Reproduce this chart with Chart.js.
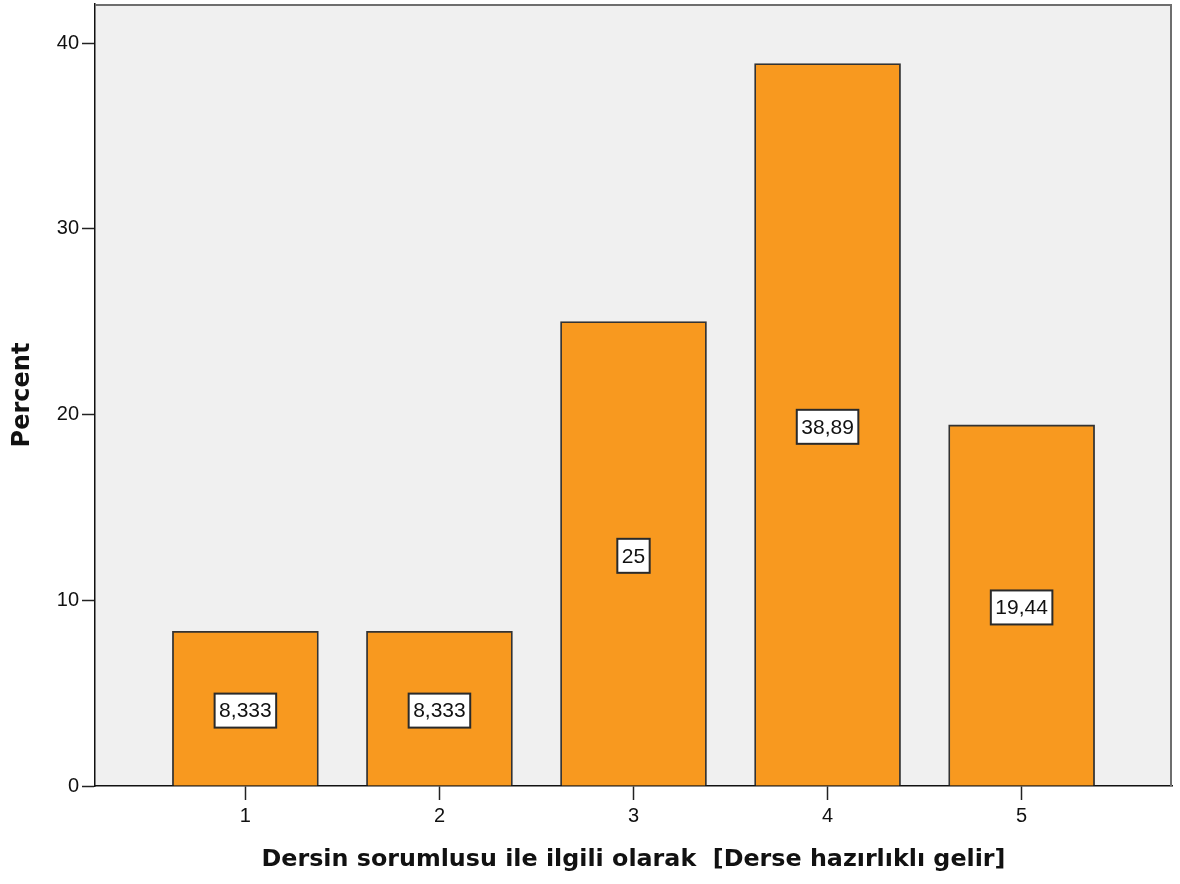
<!DOCTYPE html>
<html>
<head>
<meta charset="utf-8">
<script src="https://cdn.jsdelivr.net/npm/chart.js@4/dist/chart.umd.min.js"></script>
<style>
  html, body { margin: 0; padding: 0; background: #ffffff; }
  #wrap { width: 1180px; height: 884px; position: relative; }
</style>
</head>
<body>
<div id="wrap"><canvas id="c" width="1180" height="884"></canvas></div>
<script>
const categories = [1, 2, 3, 4, 5];
const percents = [8.333, 8.333, 25, 38.89, 19.44];
const valueLabels = ['8,333', '8,333', '25', '38,89', '19,44'];
const yTickValues = [0, 10, 20, 30, 40];
const xTitle = 'Dersin sorumlusu ile ilgili olarak  [Derse hazırlıklı gelir]';
const yTitle = 'Percent';

const points = categories.map((c, i) => ({ x: c, y: percents[i] }));

const bgPlugin = {
  id: 'bgPlugin',
  beforeDraw(chart) {
    const { ctx, chartArea: a } = chart;
    ctx.save();
    ctx.fillStyle = '#F0F0F0';
    ctx.fillRect(a.left, a.top, a.right - a.left, a.bottom - a.top);
    ctx.restore();
  },
  afterDraw(chart) {
    const { ctx, chartArea: a } = chart;
    ctx.save();
    ctx.strokeStyle = '#6e6e6e';
    ctx.lineWidth = 2;
    ctx.beginPath();
    ctx.moveTo(a.left, a.top + 1);
    ctx.lineTo(a.right - 1, a.top + 1);
    ctx.lineTo(a.right - 1, a.bottom);
    ctx.stroke();
    ctx.restore();
  }
};

const labelPlugin = {
  id: 'labelPlugin',
  afterDatasetsDraw(chart) {
    const { ctx } = chart;
    const xs = chart.scales.x, ys = chart.scales.y;
    ctx.save();
    ctx.font = '21px "Liberation Sans", Arial, sans-serif';
    ctx.textAlign = 'center';
    ctx.textBaseline = 'middle';
    points.forEach((p, i) => {
      const cx = xs.getPixelForValue(p.x);
      const cy = ys.getPixelForValue(p.y / 2) + 2;
      const tw = ctx.measureText(valueLabels[i]).width;
      const w = tw + 9, h = 34;
      ctx.fillStyle = '#ffffff';
      ctx.fillRect(cx - w / 2, cy - h / 2, w, h);
      ctx.strokeStyle = '#2a2a2a';
      ctx.lineWidth = 2;
      ctx.strokeRect(cx - w / 2, cy - h / 2, w, h);
      ctx.fillStyle = '#111111';
      ctx.fillText(valueLabels[i], cx, cy + 1);
    });
    ctx.restore();
  }
};

new Chart(document.getElementById('c'), {
  type: 'bar',
  data: {
    datasets: [{
      data: points,
      backgroundColor: '#F8991F',
      borderColor: '#333333',
      borderWidth: 1.8,
      borderSkipped: 'bottom',
      barThickness: 146
    }]
  },
  plugins: [bgPlugin, labelPlugin],
  options: {
    responsive: false,
    animation: false,
    layout: { padding: { top: 4, right: 8, left: 0, bottom: 0 } },
    plugins: { legend: { display: false }, tooltip: { enabled: false } },
    scales: {
      x: {
        type: 'linear',
        offset: false,
        min: 0.225,
        max: 5.775,
        afterBuildTicks(scale) { scale.ticks = categories.map(v => ({ value: v })); },
        afterFit(scale) { scale.height = 98; scale.paddingLeft = 0; scale.paddingRight = 0; },
        ticks: {
          color: '#111',
          font: { family: '"Liberation Sans", Arial, sans-serif', size: 20 },
          padding: 4,
          callback: v => String(v)
        },
        grid: { offset: false, drawOnChartArea: false, drawTicks: true, tickLength: 14, tickColor: '#222', tickWidth: 1.5 },
        border: { display: true, color: '#111', width: 1.5 },
        title: {
          display: true,
          text: xTitle,
          color: '#111',
          font: { family: '"DejaVu Sans", Verdana, sans-serif', size: 23.8, weight: 'bold' },
          padding: { top: 0, bottom: 10 }
        }
      },
      y: {
        type: 'linear',
        min: 0,
        max: 42.1,
        afterBuildTicks(scale) { scale.ticks = yTickValues.map(v => ({ value: v })); },
        afterFit(scale) { scale.width = 95; scale.paddingTop = 0; scale.paddingBottom = 0; },
        ticks: {
          color: '#111',
          font: { family: '"Liberation Sans", Arial, sans-serif', size: 20 },
          padding: 3
        },
        grid: { drawOnChartArea: false, drawTicks: true, tickLength: 13, tickColor: '#222', tickWidth: 1.5 },
        border: { display: true, color: '#111', width: 1.5 },
        title: {
          display: true,
          text: yTitle,
          color: '#111',
          font: { family: '"DejaVu Sans", Verdana, sans-serif', size: 24, weight: 'bold' },
          padding: { top: 8, bottom: 0 }
        }
      }
    }
  }
});
</script>
</body>
</html>
